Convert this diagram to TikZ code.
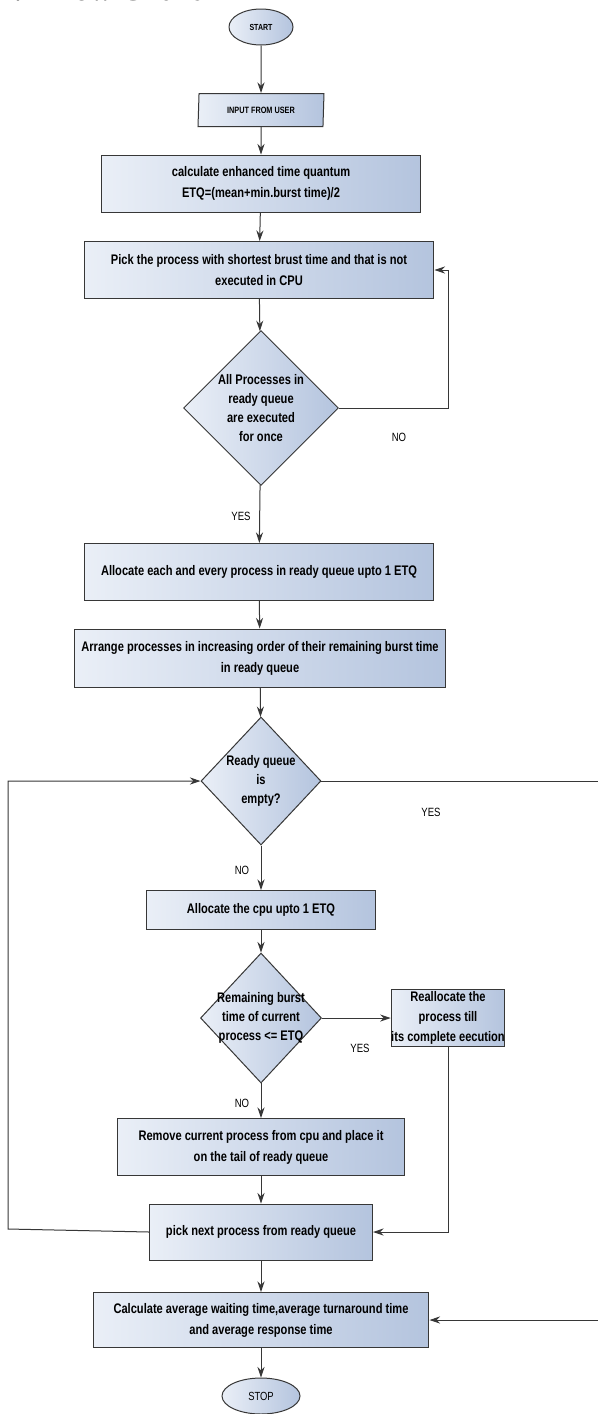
\documentclass[tikz,border=0pt]{standalone}
\usepackage{fontspec}
\setmainfont[FakeStretch=0.8]{Liberation Sans}
\newfontfamily\headfont{Liberation Serif}
\usetikzlibrary{shapes.geometric,arrows.meta}

\definecolor{boxleft}{RGB}{234,239,247}
\definecolor{boxright}{RGB}{180,196,222}
\definecolor{edgegray}{RGB}{55,55,55}

\tikzset{
  flowbox/.style={rectangle, draw=edgegray, line width=0.02cm, left color=boxleft, right color=boxright,
    align=center, inner sep=0pt, font=\bfseries\fontsize{7.9}{12}\selectfont},
  terminal/.style={ellipse, draw=edgegray, line width=0.02cm, left color=boxleft, right color=boxright,
    inner sep=0pt},
  iobox/.style={trapezium, trapezium left angle=81, trapezium right angle=99, trapezium stretches body,
    draw=edgegray, line width=0.02cm, left color=boxleft, right color=boxright, inner sep=0pt,
    font=\bfseries\fontsize{5.2}{6}\selectfont},
  decision/.style={diamond, draw=edgegray, line width=0.02cm, left color=boxleft, right color=boxright,
    inner sep=0pt},
  dtext/.style={align=center, inner sep=0pt, font=\bfseries\fontsize{7.9}{10.8}\selectfont},
  branch/.style={inner sep=0pt, font=\fontsize{6.8}{8}\selectfont},
  arr/.style={-{Stealth[length=6pt,width=4pt]}, line width=0.02cm, draw=edgegray},
  link/.style={line width=0.02cm, draw=edgegray},
}

\begin{document}
\begin{tikzpicture}[x=0.02cm,y=-0.02cm]
  \fill[white] (0,0) rectangle (598,1414);
  \useasboundingbox (0,0) rectangle (598,1414);

  % Heading, cut off by the page top
  \node[anchor=base west, inner sep=0pt, font=\headfont\bfseries\fontsize{18}{20}\selectfont] (head) at (-2,0.5) {2.2 Flow Chart};

  % Drawing terminal START
  \node[terminal, minimum width=1.28cm, minimum height=0.72cm, font=\bfseries\fontsize{5}{6}\selectfont] (start) at (261,27) {START};

  % Drawing input box
  \node[iobox, minimum width=2.52cm, minimum height=0.66cm] (input) at (261,110) {INPUT FROM USER};

  % Drawing process boxes
  \node[flowbox, minimum width=6.4cm, minimum height=1.14cm] (calc) at (261,183.5)
    {calculate enhanced time quantum\\ETQ=(mean+min.burst time)/2};
  \node[flowbox, minimum width=7cm, minimum height=1.14cm] (pick) at (259,270)
    {Pick the process with shortest brust time and that is not\\executed in CPU};

  % Drawing decision all executed
  \node[decision, minimum width=3.1cm, minimum height=3.1cm] (once) at (261,408) {};
  \node[dtext] (oncetext) at (261,408) {All Processes in\\ready queue\\are executed\\for once};

  \node[flowbox, minimum width=7cm, minimum height=1.14cm] (alloc) at (259,572)
    {Allocate each and every process in ready queue upto 1 ETQ};
  \node[flowbox, minimum width=7.42cm, minimum height=1.16cm] (arrange) at (260,658)
    {Arrange processes in increasing order of their remaining burst time\\in ready queue};

  % Drawing decision empty queue
  \node[decision, minimum width=2.4cm, minimum height=2.56cm] (empty) at (261,781) {};
  \node[dtext] (emptytext) at (261,781) {Ready queue\\is\\empty?};

  \node[flowbox, minimum width=4.58cm, minimum height=0.78cm] (cpu) at (261,910)
    {Allocate the cpu upto 1 ETQ};

  % Drawing decision remaining burst
  \node[decision, minimum width=2.42cm, minimum height=2.6cm] (remain) at (261,1018) {};
  \node[dtext] (remaintext) at (261,1018) {Remaining burst\\time of current\\process <= ETQ};

  \node[flowbox, minimum width=1.98cm, minimum height=1.14cm, font=\bfseries\fontsize{7.9}{11.5}\selectfont] (realloc) at (448,1018)
    {Reallocate the\\process till\\its complete eecution};

  \node[flowbox, minimum width=5.76cm, minimum height=1.14cm] (remove) at (261,1147)
    {Remove current process from cpu and place it\\on the tail of ready queue};
  \node[flowbox, minimum width=4.46cm, minimum height=1.12cm] (next) at (261,1232)
    {pick next process from ready queue};
  \node[flowbox, minimum width=6.72cm, minimum height=1.1cm] (avg) at (261,1320)
    {Calculate average waiting time,average turnaround time\\and average response time};

  % Drawing terminal STOP
  \node[terminal, minimum width=1.56cm, minimum height=0.72cm, font=\fontsize{6.7}{8}\selectfont] (stop) at (261,1396) {STOP};

  % Branch labels
  \node[branch] (no1) at (399,437) {NO};
  \node[branch] (yes1) at (241,516) {YES};
  \node[branch] (yes2) at (431,812) {YES};
  \node[branch] (no2) at (242,870) {NO};
  \node[branch] (yes3) at (360,1048) {YES};
  \node[branch] (no3) at (242,1103) {NO};

  % Loop corners
  \coordinate (noR) at (448,408);
  \coordinate (yesR) at (604,781);
  \coordinate (loopL) at (8,1229);

  % Drawing main flow
  \draw[arr] (start) -- (input);
  \draw[arr] (input) -- (calc);
  \draw[arr] (calc) -- (pick);
  \draw[arr] (pick) -- (once);
  \draw[arr] (once) -- (alloc);
  \draw[arr] (alloc) -- (arrange);
  \draw[arr] (arrange) -- (empty);
  \draw[arr] (empty) -- (cpu);
  \draw[arr] (cpu) -- (remain);
  \draw[arr] (remain) -- (remove);
  \draw[arr] (remove) -- (next);
  \draw[arr] (next) -- (avg);
  \draw[arr] (avg) -- (stop);

  % Drawing loops
  \draw[arr] (once.east) -- (noR) |- (pick.east);
  \draw[arr] (empty.east) -- (yesR) |- (avg.east);
  \draw[arr] (next.west) -- (loopL) |- (empty.west);
  \draw[arr] (remain.east) -- (realloc.west);
  \draw[arr] (realloc.south) |- (next.east);
\end{tikzpicture}
\end{document}
